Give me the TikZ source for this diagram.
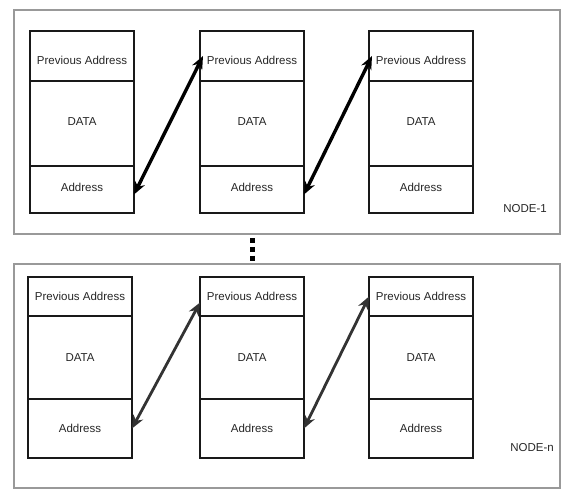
\documentclass[tikz,border=0pt]{standalone}
\usepackage{fontspec}
\setmainfont{Liberation Sans}
\usetikzlibrary{positioning,arrows.meta}

\begin{document}
\begin{tikzpicture}[x=1pt,y=-1pt,
  every node/.style = {font=\fontsize{11.5}{13}\selectfont, text=black!85},
  cell/.style = {shape=rectangle, draw=black!90, line width=1.6pt,
    minimum width=104pt, inner sep=0pt, outer sep=0pt},
  panel/.style = {draw=black!40, line width=1.8pt},
  link/.style = {line width=3.4pt,
    {Stealth[length=13pt,width=11pt]}-{Stealth[length=13pt,width=11pt]}},
 ]
 \useasboundingbox (0,0) rectangle (574,503);
 \draw[panel] (14,10) rectangle (560,234);
 \draw[panel] (14,264) rectangle (560,488);
 % upper node
 \foreach \n/\x in {1/30,2/200,3/369} {
   \node[cell, minimum height=50pt, text height=18pt, anchor=north west] (tp\n) at (\x,31) {Previous Address};
   \node[cell, minimum height=85pt, text depth=4pt, below=0pt of tp\n] (td\n) {DATA};
   \node[cell, minimum height=47pt, text depth=4pt, below=0pt of td\n] (ta\n) {Address};
 }
 \node (tag1) at (525,209) {NODE-1};
 \draw[link] ([yshift=-5pt]ta1.east) -- ([xshift=3pt]tp2.west);
 \draw[link] ([yshift=-5pt]ta2.east) -- ([xshift=3pt]tp3.west);
 % lower node
 \foreach \n/\x in {1/28,2/200,3/369} {
   \node[cell, minimum height=39pt, anchor=north west] (bp\n) at (\x,277) {Previous Address};
   \node[cell, minimum height=83pt, below=0pt of bp\n] (bd\n) {DATA};
   \node[cell, minimum height=59pt, below=0pt of bd\n] (ba\n) {Address};
 }
 \node (tagn) at (532,448) {NODE-n};
 \draw[link, black!80, line width=2.8pt] (ba1.east) -- ([yshift=-6pt]bp2.west);
 \draw[link, black!80, line width=2.8pt] (ba2.east) -- (bp3.west);
 % dots
 \coordinate (gapA) at (252.5,238.2);
 \coordinate (gapB) at (252.5,260.6);
 \draw[line width=5pt, dash pattern=on 5pt off 3.7pt] (gapA) -- (gapB);
\end{tikzpicture}
\end{document}
